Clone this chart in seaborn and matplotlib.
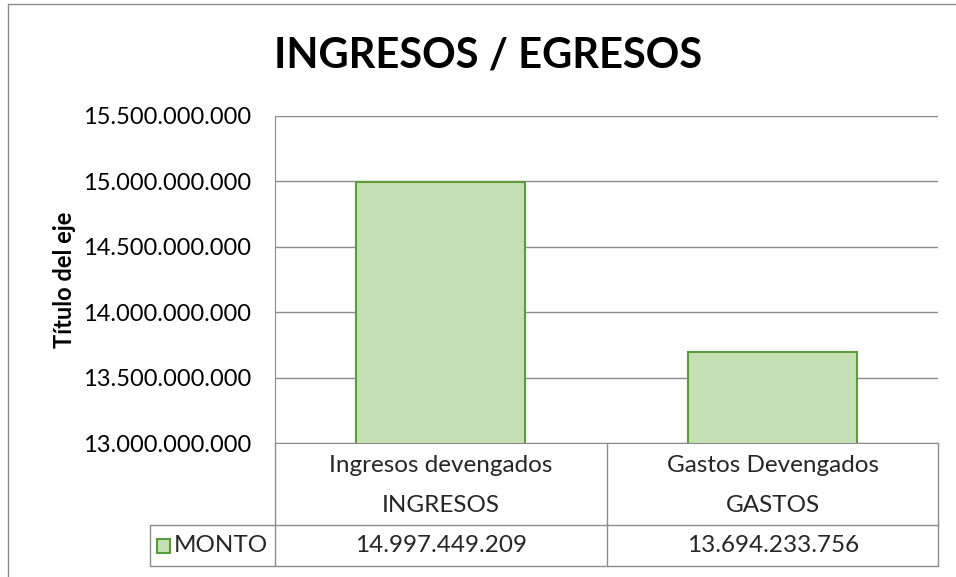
import numpy as np
import pandas as pd
import seaborn as sns
import matplotlib.pyplot as plt
from matplotlib.ticker import FuncFormatter
from matplotlib.lines import Line2D
from matplotlib.patches import Rectangle

# data
categorias = ['Ingresos devengados', 'Gastos Devengados']
grupos = ['INGRESOS', 'GASTOS']
montos = [14997449209, 13694233756]
serie = 'MONTO'

df = pd.DataFrame({'categoria': categorias, 'grupo': grupos, 'monto': montos})

W, H = 956, 577
fill_col = '#C5E0B4'
edge_col = '#5B9B3A'
line_col = '#8C8C8C'

sns.set_style('white')
plt.rcParams['font.family'] = ['Lato', 'DejaVu Sans']

fig = plt.figure(figsize=(W / 100, H / 100), dpi=100)

def fx(px):
    return px / W

def fy(py):
    return 1 - py / H

ax = fig.add_axes([fx(275), fy(443), fx(938) - fx(275), fy(116) - fy(443)])
sns.barplot(data=df, x='categoria', y='monto', color=fill_col, edgecolor=edge_col,
            linewidth=1.5, width=0.51, saturation=1, ax=ax)

ax.set_ylim(13e9, 15.5e9)
ax.set_yticks(np.arange(13e9, 15.5e9 + 1, 0.5e9))
ax.yaxis.set_major_formatter(FuncFormatter(lambda v, p: f'{v:,.0f}'.replace(',', '.')))
ax.tick_params(axis='y', labelsize=17, length=0, pad=17, colors='black')
ax.set_xticks([])
ax.set_xlabel('')
ax.set_ylabel('Título del eje', fontsize=17, fontweight='bold', labelpad=5, color='black')
ax.yaxis.grid(True, color=line_col, linewidth=1)
ax.set_axisbelow(True)
for s in ['top', 'right']:
    ax.spines[s].set_visible(False)
ax.spines['left'].set_color(line_col)
ax.spines['bottom'].set_color(line_col)

fig.text(fx(488), fy(55), 'INGRESOS / EGRESOS', ha='center', va='center',
         fontsize=30, fontweight='bold', color='black')

# data table under the plot
def hline(y, x0, x1):
    fig.add_artist(Line2D([fx(x0), fx(x1)], [fy(y), fy(y)], color=line_col, lw=1))

def vline(x, y0, y1):
    fig.add_artist(Line2D([fx(x), fx(x)], [fy(y0), fy(y1)], color=line_col, lw=1))

hline(525, 150, 938)
hline(566, 150, 938)
vline(275, 443, 566)
vline(607, 443, 566)
vline(938, 443, 566)
vline(150, 525, 566)

# outer chart border
fig.add_artist(Line2D([fx(8), fx(956)], [fy(4), fy(4)], color=line_col, lw=1))
fig.add_artist(Line2D([fx(8), fx(8)], [fy(4), fy(577)], color=line_col, lw=1))

centers = [441, 773]
for cx, cat, grp, val in zip(centers, categorias, grupos, montos):
    fig.text(fx(cx), fy(466), cat, ha='center', va='center', fontsize=17.5)
    fig.text(fx(cx), fy(506), grp, ha='center', va='center', fontsize=17.5)
    fig.text(fx(cx), fy(546), f'{val:,}'.replace(',', '.'), ha='center', va='center', fontsize=17.5)

fig.add_artist(Rectangle((fx(157), fy(553)), fx(13), fy(539) - fy(553),
                         facecolor=fill_col, edgecolor=edge_col, lw=1.5))
fig.text(fx(174), fy(546), serie, ha='left', va='center', fontsize=17.5)

fig.savefig('out.png', dpi=100)
